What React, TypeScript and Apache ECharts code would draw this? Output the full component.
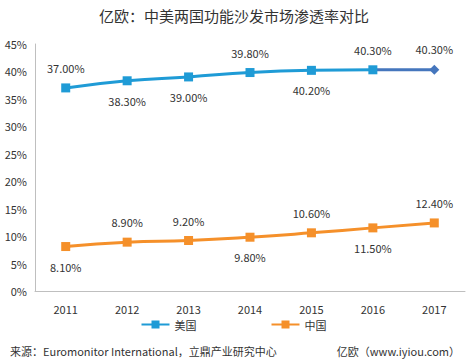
import React, { useEffect, useRef } from "react";
import * as echarts from "echarts";

const years = ["2011", "2012", "2013", "2014", "2015", "2016", "2017"];
const usValues = [37.0, 38.3, 39.0, 39.8, 40.2, 40.3, 40.3];
const cnValues = [8.1, 8.9, 9.2, 9.8, 10.6, 11.5, 12.4];
const usLabelPos = ["top", "bottom", "bottom", "top", "bottom", "top", "top"];
const cnLabelPos = ["bottom", "top", "top", "bottom", "top", "bottom", "top"];
const yTicks = [0, 5, 10, 15, 20, 25, 30, 35, 40, 45];

const FONT = "'Noto Sans CJK SC', 'Noto Sans', sans-serif";
const BLUE = "#1f9bd6";
const DARK_BLUE = "#4576bd";
const ORANGE = "#f5902a";

export default function App() {
  const ref = useRef<HTMLDivElement>(null);
  useEffect(() => {
    const chart = echarts.init(ref.current!, undefined, { renderer: "svg" });
    const lab = (pos: string) => ({
      show: true,
      position: pos,
      distance: 10,
      color: "#333",
      fontSize: 11,
      fontFamily: FONT,
      formatter: (p: any) => Number(p.value).toFixed(2) + "%",
    });
    const last = usValues.length - 1;
    chart.setOption({
      animation: false,
      textStyle: { fontFamily: FONT },
      title: {
        text: "亿欧：中美两国功能沙发市场渗透率对比",
        left: "center",
        top: 3,
        textStyle: { fontSize: 15, fontWeight: "normal", color: "#333", fontFamily: FONT },
      },
      grid: { left: 35, right: 3, top: 44, bottom: 72 },
      legend: {
        bottom: 28,
        left: "center",
        itemGap: 75,
        itemWidth: 28,
        itemHeight: 8,
        textStyle: { fontSize: 11, color: "#333", fontFamily: FONT },
        data: [
          { name: "美国", icon: "path://M0,3h10v-3h8v3h10v2h-10v3h-8v-3h-10z" },
          { name: "中国", icon: "path://M0,3h10v-3h8v3h10v2h-10v3h-8v-3h-10z" },
        ],
      },
      xAxis: {
        type: "category",
        data: years,
        boundaryGap: true,
        axisLine: { lineStyle: { color: "#bfbfbf", width: 1 } },
        axisTick: { show: false },
        axisLabel: { color: "#333", fontSize: 11, margin: 12, fontFamily: FONT },
      },
      yAxis: {
        type: "value",
        min: yTicks[0],
        max: yTicks[yTicks.length - 1],
        interval: 5,
        axisLine: { show: true, lineStyle: { color: "#bfbfbf", width: 1 } },
        axisTick: { show: false },
        splitLine: { show: false },
        axisLabel: { color: "#333", fontSize: 11, margin: 8, formatter: "{value}%", fontFamily: FONT },
      },
      series: [
        {
          name: "美国",
          type: "line",
          smooth: true,
          symbol: "rect",
          symbolSize: 9,
          color: BLUE,
          lineStyle: { width: 3, color: BLUE },
          itemStyle: { color: BLUE },
          data: usValues.map((v, i) => (i < last ? { value: v, label: lab(usLabelPos[i]) } : "-")),
          z: 3,
        },
        {
          name: "美国-end",
          type: "line",
          lineStyle: { width: 3, color: DARK_BLUE },
          itemStyle: { color: DARK_BLUE },
          data: usValues.map((v, i) =>
            i === last
              ? { value: v, symbol: "diamond", symbolSize: 10, label: lab(usLabelPos[i]) }
              : i === last - 1
              ? { value: v, symbol: "none" }
              : "-"
          ),
          z: 2,
          silent: true,
        },
        {
          name: "中国",
          type: "line",
          smooth: true,
          symbol: "rect",
          symbolSize: 9,
          color: ORANGE,
          lineStyle: { width: 3, color: ORANGE },
          itemStyle: { color: ORANGE },
          data: cnValues.map((v, i) => ({ value: v, label: lab(cnLabelPos[i]) })),
        },
      ],
      graphic: [
        {
          type: "text",
          left: 10,
          top: 345,
          style: { text: "来源：Euromonitor International，立鼎产业研究中心", fontSize: 11, fill: "#333", fontFamily: FONT },
        },
        {
          type: "text",
          right: 8,
          top: 345,
          style: { text: "亿欧（www.iyiou.com）", fontSize: 11, fill: "#333", fontFamily: FONT },
        },
      ],
    });
    return () => chart.dispose();
  }, []);
  return <div ref={ref} style={{ width: 468, height: 363, position: "absolute", left: 0, top: 0 }} />;
}
